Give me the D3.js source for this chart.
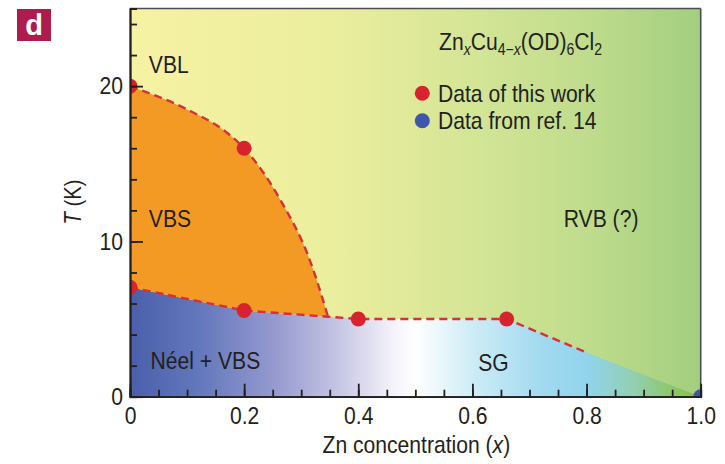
<!DOCTYPE html>
<html>
<head>
<meta charset="utf-8">
<script src="https://cdn.jsdelivr.net/npm/d3@7/dist/d3.min.js"></script>
<style>
  html, body { margin: 0; padding: 0; background: #fff; }
  svg { display: block; }
  text { font-family: "Liberation Sans", Arial, sans-serif; fill: #231f20; }
</style>
</head>
<body>
<svg id="chart" width="725" height="464"></svg>
<script>
// ---------------- data ----------------
const xTickValues = [0, 0.2, 0.4, 0.6, 0.8, 1.0];
const xTickLabels = ["0", "0.2", "0.4", "0.6", "0.8", "1.0"];
const yTickValues = [0, 10, 20];
const yTickLabels = ["0", "10", "20"];

// red points: data of this work
const redX = [0, 0.2, 0, 0.2, 0.4, 0.66];
const redT = [20, 16, 7.05, 5.55, 5.0, 5.0];
// blue point: data from ref. 14
const blueX = [1.0];
const blueT = [0];

// VBL / VBS boundary (upper edge of VBS region)
const upperX = [0, 0.1, 0.17, 0.2, 0.263, 0.315, 0.347];
const upperT = [20, 18.5, 17.0, 16, 12.7, 8.8, 5.15];
// lower ordered-phase boundary (Néel+VBS / SG)
const lowerX = [0, 0.2, 0.347, 0.4, 0.66, 0.8, 1.0];
const lowerT = [7.05, 5.55, 5.15, 5.0, 5.0, 2.85, 0];
const dashedLowerEnd = 0.8;

const regionLabels = ["VBL", "VBS", "Néel + VBS", "SG", "RVB (?)"];
const regionLabelX = [0.033, 0.033, 0.036, 0.61, 0.76];
const regionLabelT = [20.85, 10.95, 1.77, 1.66, 10.95];

const legendLabels = ["Data of this work", "Data from ref. 14"];
const legendColors = ["#d7232e", "#3f57a8"];

// ---------------- layout ----------------
const SX = 0.88; // horizontal condensing of the typeface
const svg = d3.select("#chart");
const pL = 130, pR = 700.7, pT = 8.5, pB = 396.7;
const x = d3.scaleLinear().domain([0, 1]).range([pL, pR]);
const y = d3.scaleLinear().domain([0, 25]).range([pB, pT]);

function placeText(sel, px, py, extra) {
  return sel.attr("transform", `translate(${px},${py}) ${extra || ""} scale(${SX},1)`);
}

const defs = svg.append("defs");
defs.append("clipPath").attr("id", "plotclip")
  .append("rect").attr("x", pL).attr("y", pT).attr("width", pR - pL).attr("height", pB - pT);

const gTop = defs.append("linearGradient").attr("id", "gradTop")
  .attr("gradientUnits", "userSpaceOnUse").attr("x1", pL).attr("x2", pR).attr("y1", 0).attr("y2", 0);
[[0, "#f6f2a3"], [0.35, "#ebee9d"], [0.6, "#d4e596"], [0.8, "#bfdc8c"], [1, "#a2cf7f"]]
  .forEach(([o, c]) => gTop.append("stop").attr("offset", o).attr("stop-color", c));

const gLow = defs.append("linearGradient").attr("id", "gradLow")
  .attr("gradientUnits", "userSpaceOnUse").attr("x1", pL).attr("x2", pR).attr("y1", 0).attr("y2", 0);
[[0, "#4a5fab"], [0.12, "#6377bb"], [0.25, "#9499cf"], [0.36, "#c3c3e3"], [0.46, "#f4f2fa"], [0.5, "#ffffff"],
 [0.6, "#cdecf6"], [0.72, "#a2daf0"], [0.8, "#91d4ec"], [0.88, "#93cfb3"], [0.95, "#8dc76a"], [1, "#86c142"]]
  .forEach(([o, c]) => gLow.append("stop").attr("offset", o).attr("stop-color", c));

const plot = svg.append("g").attr("clip-path", "url(#plotclip)");

// background (VBL / RVB)
plot.append("rect").attr("x", pL).attr("y", pT).attr("width", pR - pL).attr("height", pB - pT)
  .attr("fill", "url(#gradTop)");

const upperPts = upperX.map((v, i) => [v, upperT[i]]);
const lowerPts = lowerX.map((v, i) => [v, lowerT[i]]);

// lower region (Néel+VBS, SG)
const lowArea = d3.area().x(d => x(d[0])).y0(y(0)).y1(d => y(d[1]));
plot.append("path").datum(lowerPts).attr("d", lowArea).attr("fill", "url(#gradLow)");

// VBS orange region
const upperLine = d3.line().x(d => x(d[0])).y(d => y(d[1])).curve(d3.curveMonotoneX);
const lowerSeg = lowerPts.filter(d => d[0] <= upperX[upperX.length - 1]);
const lineLin = d3.line().x(d => x(d[0])).y(d => y(d[1]));
const orangePath = upperLine(upperPts) + "L" + lineLin(lowerSeg.slice().reverse()).slice(1) + "Z";
plot.append("path").attr("d", orangePath).attr("fill", "#f39a25");

// dashed boundaries
const dashStyle = sel => sel.attr("fill", "none").attr("stroke", "#d7303a").attr("stroke-width", 2.4)
  .attr("stroke-dasharray", "8,5");
plot.append("path").datum(upperPts).attr("d", upperLine).call(dashStyle);
plot.append("path").datum(lowerPts.filter(d => d[0] <= dashedLowerEnd)).attr("d", lineLin).call(dashStyle);

// points
plot.selectAll("circle.red").data(redX.map((v, i) => [v, redT[i]])).enter().append("circle")
  .attr("cx", d => x(d[0])).attr("cy", d => y(d[1])).attr("r", 7.5).attr("fill", legendColors[0]);
plot.selectAll("circle.blue").data(blueX.map((v, i) => [v, blueT[i]])).enter().append("circle")
  .attr("cx", d => x(d[0])).attr("cy", d => y(d[1])).attr("r", 7.5).attr("fill", legendColors[1]);

// frame
svg.append("line").attr("x1", pL).attr("x2", pR).attr("y1", pT).attr("y2", pT)
  .attr("stroke", "#4d4d4f").attr("stroke-width", 1.6);
svg.append("line").attr("x1", pR).attr("x2", pR).attr("y1", pT).attr("y2", pB)
  .attr("stroke", "#4d4d4f").attr("stroke-width", 1.6);

// axes
const minorX = d3.range(0, 1.0001, 0.05);
const minorY = d3.range(0, 25, 2);
const xMinor = svg.append("g").attr("transform", `translate(0,${pB})`)
  .call(d3.axisBottom(x).tickValues(minorX).tickSize(-7).tickFormat(""));
const xMajor = svg.append("g").attr("transform", `translate(0,${pB})`)
  .call(d3.axisBottom(x).tickValues(xTickValues).tickSizeInner(-13).tickSizeOuter(0).tickPadding(10)
    .tickFormat((d, i) => xTickLabels[i]));
const yMinor = svg.append("g").attr("transform", `translate(${pL},0)`)
  .call(d3.axisLeft(y).tickValues(minorY).tickSize(-7).tickFormat(""));
const yMajor = svg.append("g").attr("transform", `translate(${pL},0)`)
  .call(d3.axisLeft(y).tickValues(yTickValues).tickSizeInner(-13).tickSizeOuter(0).tickPadding(6)
    .tickFormat((d, i) => yTickLabels[i]));
[xMinor, xMajor, yMinor, yMajor].forEach(g => {
  g.selectAll("path.domain").attr("stroke", "#231f20").attr("stroke-width", 1.8);
  g.selectAll(".tick line").attr("stroke", "#231f20").attr("stroke-width", 1.8);
  g.selectAll("text").attr("font-size", 24).attr("fill", "#231f20")
    .style("font-family", '"Liberation Sans", Arial, sans-serif');
});
yMajor.selectAll("text").attr("x", null).attr("transform", `translate(-7,0) scale(${SX},1)`);
xMajor.selectAll("text").attr("dy", "0.71em").attr("transform", `scale(${SX},1)`);

// axis titles
const xt = placeText(svg.append("text"), (pL + pR) / 2 + 1, 453).attr("text-anchor", "middle")
  .attr("font-size", 24);
xt.append("tspan").text("Zn concentration (");
xt.append("tspan").attr("font-style", "italic").text("x");
xt.append("tspan").text(")");

const yt = placeText(svg.append("text"), 81, 202, "rotate(-90)").attr("text-anchor", "middle")
  .attr("font-size", 23);
yt.append("tspan").attr("font-style", "italic").text("T");
yt.append("tspan").text(" (K)");

// region labels
svg.selectAll("text.region").data(regionLabels).enter().append("text").attr("class", "region")
  .attr("transform", (d, i) => `translate(${x(regionLabelX[i])},${y(regionLabelT[i])}) scale(${SX},1)`)
  .attr("font-size", 24).text(d => d);

// formula title
const ft = placeText(svg.append("text"), 439, 50).attr("font-size", 24);
const sub = (t, italic) => ft.append("tspan").attr("font-size", 16).attr("dy", 5)
  .attr("font-style", italic ? "italic" : null).text(t);
ft.append("tspan").text("Zn");
sub("x", true);
ft.append("tspan").attr("dy", -5).text("Cu");
ft.append("tspan").attr("font-size", 16).attr("dy", 5).text("4−");
ft.append("tspan").attr("font-size", 16).attr("font-style", "italic").text("x");
ft.append("tspan").attr("dy", -5).text("(OD)");
sub("6", false);
ft.append("tspan").attr("dy", -5).text("Cl");
sub("2", false);

// legend
const lg = svg.append("g");
legendLabels.forEach((lab, i) => {
  lg.append("circle").attr("cx", 422.3).attr("cy", 93.3 + i * 27.5).attr("r", 7.5).attr("fill", legendColors[i]);
  placeText(lg.append("text"), 438, 101.5 + i * 27.5).attr("font-size", 24).text(lab);
});

// panel label
svg.append("rect").attr("x", 17).attr("y", 9).attr("width", 34).attr("height", 32).attr("fill", "#ae1b4d");
svg.append("text").attr("x", 34).attr("y", 35).attr("text-anchor", "middle").attr("font-size", 29)
  .attr("font-weight", "bold").style("fill", "#ffffff").text("d");
</script>
</body>
</html>
